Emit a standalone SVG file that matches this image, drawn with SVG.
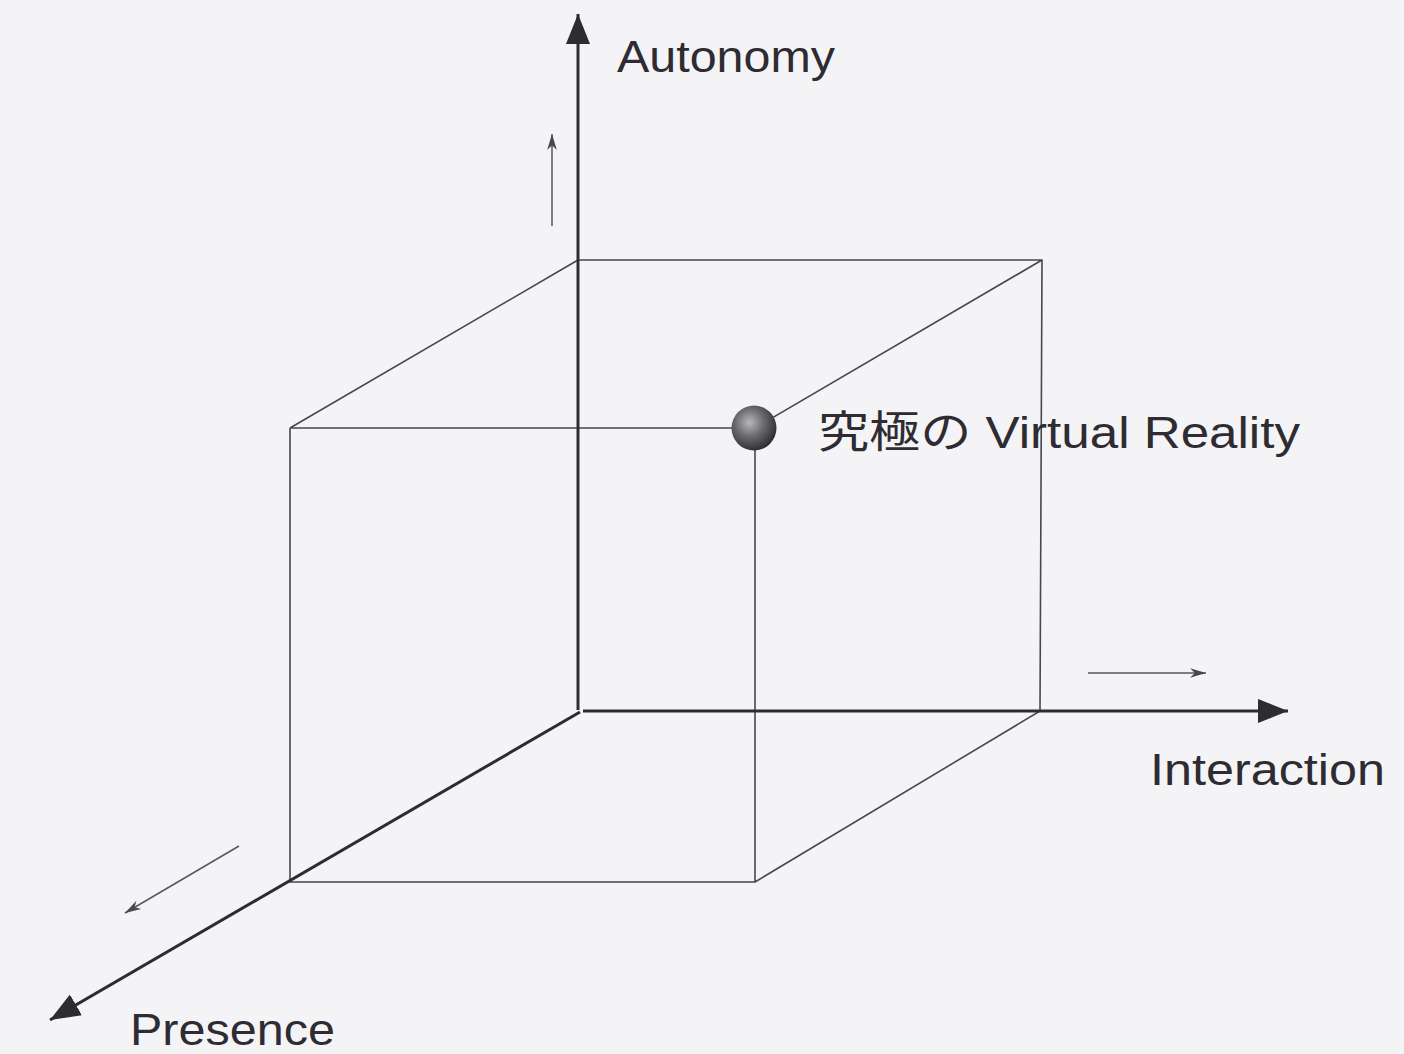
<svg xmlns="http://www.w3.org/2000/svg" width="1404" height="1054" viewBox="0 0 1404 1054">
<defs>
<marker id="big" viewBox="0 0 10 10" refX="10" refY="5" markerWidth="30" markerHeight="30" markerUnits="userSpaceOnUse" orient="auto"><path d="M0,1 L10,5 L0,9 Z" fill="#2e2c30"/></marker>
<marker id="small" viewBox="0 0 10 10" refX="10" refY="5" markerWidth="16" markerHeight="16" markerUnits="userSpaceOnUse" orient="auto"><path d="M0,2 L10,5 L0,8 L3,5 Z" fill="#4a4650"/></marker>
<radialGradient id="ball" cx="0.4" cy="0.38" r="0.7"><stop offset="0" stop-color="#b8b8bc"/><stop offset="0.45" stop-color="#6a6a70"/><stop offset="1" stop-color="#222226"/></radialGradient>
<style>
.axis{stroke:#2e2c30;stroke-width:3;fill:none}
.edge{stroke:#4a464c;stroke-width:1.6;fill:none}
.hint{stroke:#5a5660;stroke-width:1.5;fill:none}
.lbl{font-family:"Liberation Sans","Noto Sans CJK JP",sans-serif;font-size:44px;fill:#2e2c32}
</style>
</defs>
<rect width="1404" height="1054" fill="#f4f4f6"/>
<g id="cube">
<path class="edge" d="M578,260 L1042,260 L1040,711 M578,260 L290,428 M1042,260 L755,428 M1040,711 L755,882 M290,428 L755,428 M290,428 L290,882 L755,882 L755,428"/>
</g>
<g id="connectors">
<line class="axis" x1="578" y1="710" x2="578" y2="14" marker-end="url(#big)"/>
<line class="axis" x1="583" y1="711" x2="1288" y2="711" marker-end="url(#big)"/>
<line class="axis" x1="580" y1="712" x2="50" y2="1020" marker-end="url(#big)"/>
<line class="hint" x1="552" y1="226" x2="552" y2="134" marker-end="url(#small)"/>
<line class="hint" x1="1088" y1="673" x2="1206" y2="673" marker-end="url(#small)"/>
<line class="hint" x1="239" y1="846" x2="125" y2="913" marker-end="url(#small)"/>
</g>
<g id="autonomy"><text class="lbl" x="617" y="72" textLength="218" lengthAdjust="spacingAndGlyphs">Autonomy</text></g>
<g id="interaction"><text class="lbl" x="1150" y="785" textLength="235" lengthAdjust="spacingAndGlyphs">Interaction</text></g>
<g id="presence"><text class="lbl" x="130" y="1045" textLength="205" lengthAdjust="spacingAndGlyphs">Presence</text></g>
<g id="ultimate-vr">
<circle cx="754" cy="428" r="22.5" fill="url(#ball)"/>
<text class="lbl" x="818" y="448" textLength="482" lengthAdjust="spacingAndGlyphs">究極の Virtual Reality</text>
</g>
</svg>
